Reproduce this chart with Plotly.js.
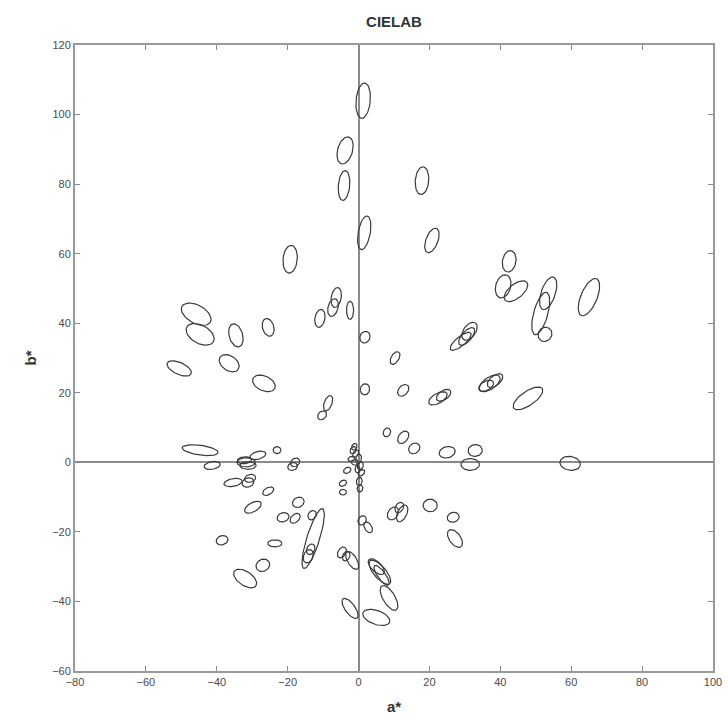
<!DOCTYPE html>
<html><head><meta charset="utf-8">
<script src="https://cdn.plot.ly/plotly-3.0.1.min.js"></script>
<style>html,body{margin:0;padding:0;background:#fff}#chart{width:728px;height:720px}</style>
</head><body><div id="chart"></div>
<script>
// Ellipse centres (a*, b*), semi-axes (data units) and orientation (deg, from a* axis)
const ellA = [1.3,-3.8,-4.1,1.6,17.9,20.7,-19.3,42.5,40.8,44.4,53.5,51.4,52.6,65,
  -45.8,-44.7,-34.6,-25.5,-50.6,-36.5,-26.7,-6.3,-7.2,-10.9,-2.4,1.8,
  31.3,28.8,30.5,10.3,1.8,12.6,22.4,24,37,38.5,36,47.8,
  8,12.6,15.7,25,32.9,31.5,59.7,
  -44.7,-41.3,-31.7,-32.2,-31.2,-28.4,-23,-17.9,-18.6,-10.3,-8.6,
  -35.4,-31.2,-30.6,-25.5,-29.8,-17,-21.3,-17.9,-13.1,-12.8,-14.2,-13.5,
  -38.5,-23.6,-27,-32,-4.7,-3.5,-1.8,-2.4,
  -3.2,-4.4,-4.4,0.4,-1.5,0,0.5,-1,-0.8,-0.3,0.8,-2,0.2,-1.2,
  20.2,26.7,27.2,9.7,12.3,11.5,1,2.7,6,5,6.5,8.6,5];
const ellB = [104,89.7,79.6,66,81,63.8,58.4,57.8,50.6,49.2,48.6,42.8,36.8,47.5,
  42.6,36.8,36.5,38.8,27,28.5,22.7,47.4,44.5,41.4,43.7,36,
  37.7,34.8,36.2,30,21,20.7,18.4,19.3,22.7,23.5,22,18.4,
  8.6,7.2,4,2.9,3.4,-0.6,-0.3,
  3.5,-0.9,0,0.6,-0.9,2,3.5,0,-1.2,13.5,17,
  -5.8,-5.8,-4.6,-8.3,-12.9,-11.5,-15.8,-16.1,-15.2,-21.9,-27,-25,
  -22.4,-23.3,-29.6,-33.4,-25.9,-27,-28.2,-42,
  -2.3,-6,-8.6,-7.5,3.5,1,-1,0,2.5,-2,-3,1,-5.5,4.5,
  -12.4,-15.8,-21.9,-14.7,-14.7,-13,-16.7,-18.7,-31.6,-30,-32.5,-39,-44.6];
const ellR1 = [5.1,4.0,4.3,4.9,4.0,3.7,4.0,3.1,3.4,4.0,4.9,6.3,2.1,5.7,
  4.6,4.3,3.4,2.6,3.7,3.1,3.4,2.9,2.6,2.6,2.6,1.7,
  2.9,3.7,3.1,2.0,1.6,1.9,2.9,2.3,3.4,2.6,2.3,4.9,
  1.3,2.0,1.7,2.3,2.0,2.6,2.9,
  5.1,2.3,2.6,2.0,2.3,2.3,1.1,1.4,1.4,1.4,2.3,
  2.6,1.7,1.6,1.7,2.6,1.7,1.7,1.7,1.4,9.0,2.0,1.6,
  1.7,2.0,2.0,3.7,1.7,1.4,2.9,3.4,
  1.1,1.1,1.0,1.0,1.1,1.4,1.1,1.0,1.2,1.0,1.1,1.0,1.2,1.0,
  2.0,1.7,2.9,2.0,2.6,1.6,1.4,1.7,4.3,2.9,3.4,4.0,4.0];
const ellR2 = [2.0,2.1,1.6,1.7,1.9,1.7,2.0,1.9,2.1,2.0,2.0,2.0,1.9,2.3,
  2.6,2.6,1.9,1.6,1.7,2.1,2.1,1.4,1.4,1.4,1.0,1.4,
  1.7,1.3,1.4,1.1,1.3,1.3,1.4,1.3,1.7,1.4,1.3,2.0,
  1.0,1.3,1.4,1.6,1.7,1.7,2.0,
  1.4,1.1,1.3,1.0,1.1,1.1,1.0,1.1,1.1,1.1,1.1,
  1.1,1.3,1.1,1.0,1.3,1.4,1.3,1.1,1.1,1.8,1.3,1.1,
  1.3,1.0,1.7,2.0,1.1,1.0,1.3,1.4,
  0.8,0.8,0.8,0.8,0.8,0.8,0.8,0.8,0.7,0.7,0.7,0.7,0.8,0.7,
  1.8,1.4,1.6,1.4,1.3,1.1,1.1,1.0,1.7,1.4,1.1,1.7,2.0];
const ellAng = [85,75,85,80,85,70,85,80,75,40,72,75,60,68,
  -30,-30,-75,-75,-25,-35,-25,80,75,80,90,70,
  55,40,50,60,80,50,30,35,35,40,30,35,
  70,55,40,15,10,0,-10,
  -8,10,0,5,0,15,0,40,20,45,70,
  10,20,15,30,30,30,20,45,60,73,70,65,
  20,0,30,-35,60,65,-60,-55,
  30,30,0,80,60,80,70,0,60,90,45,20,80,60,
  0,20,-55,60,65,60,60,-60,-50,-45,-55,-60,-20];

const xs = [], ys = [];
for (let i = 0; i < ellA.length; i++) {
  const th = ellAng[i] * Math.PI / 180;
  for (let k = 0; k <= 48; k++) {
    const t = 2 * Math.PI * k / 48;
    const u = ellR1[i] * Math.cos(t), v = ellR2[i] * Math.sin(t);
    xs.push(ellA[i] + u * Math.cos(th) - v * Math.sin(th));
    ys.push(ellB[i] + u * Math.sin(th) + v * Math.cos(th));
  }
  xs.push(null); ys.push(null);
}

const trace = {x: xs, y: ys, type: 'scatter', mode: 'lines',
  line: {color: '#3a3a3a', width: 1.2}, hoverinfo: 'skip', connectgaps: false};

const axisCommon = {showgrid: false, zeroline: true, zerolinecolor: '#8a8a8a', zerolinewidth: 2,
  showline: true, linecolor: '#9a9a9a', linewidth: 2, mirror: 'ticks',
  ticks: 'inside', ticklen: 5, tickwidth: 1, tickcolor: '#8a8a8a',
  tickfont: {family: 'Liberation Sans, Arial, sans-serif', size: 11, color: '#4a4a4a'}, dtick: 20};

const layout = {
  width: 728, height: 720,
  margin: {l: 75, r: 15, t: 45, b: 49},
  paper_bgcolor: '#fff', plot_bgcolor: '#fff', showlegend: false,
  title: {text: '<b>CIELAB</b>', font: {family: 'Liberation Sans, Arial, sans-serif', size: 15, color: '#333'},
    x: 0.5, xref: 'paper', y: 0.97, yref: 'container', yanchor: 'middle'},
  xaxis: Object.assign({}, axisCommon, {range: [-80, 100], tick0: -80,
    title: {text: '<b>a*</b>', standoff: 14, font: {family: 'Liberation Sans, Arial, sans-serif', size: 15, color: '#333'}}}),
  yaxis: Object.assign({}, axisCommon, {range: [-60, 120], tick0: -60,
    title: {text: '<b>b*</b>', standoff: 12, font: {family: 'Liberation Sans, Arial, sans-serif', size: 15, color: '#333'}}})
};

Plotly.newPlot('chart', [trace], layout, {displayModeBar: false, staticPlot: true});
</script></body></html>
